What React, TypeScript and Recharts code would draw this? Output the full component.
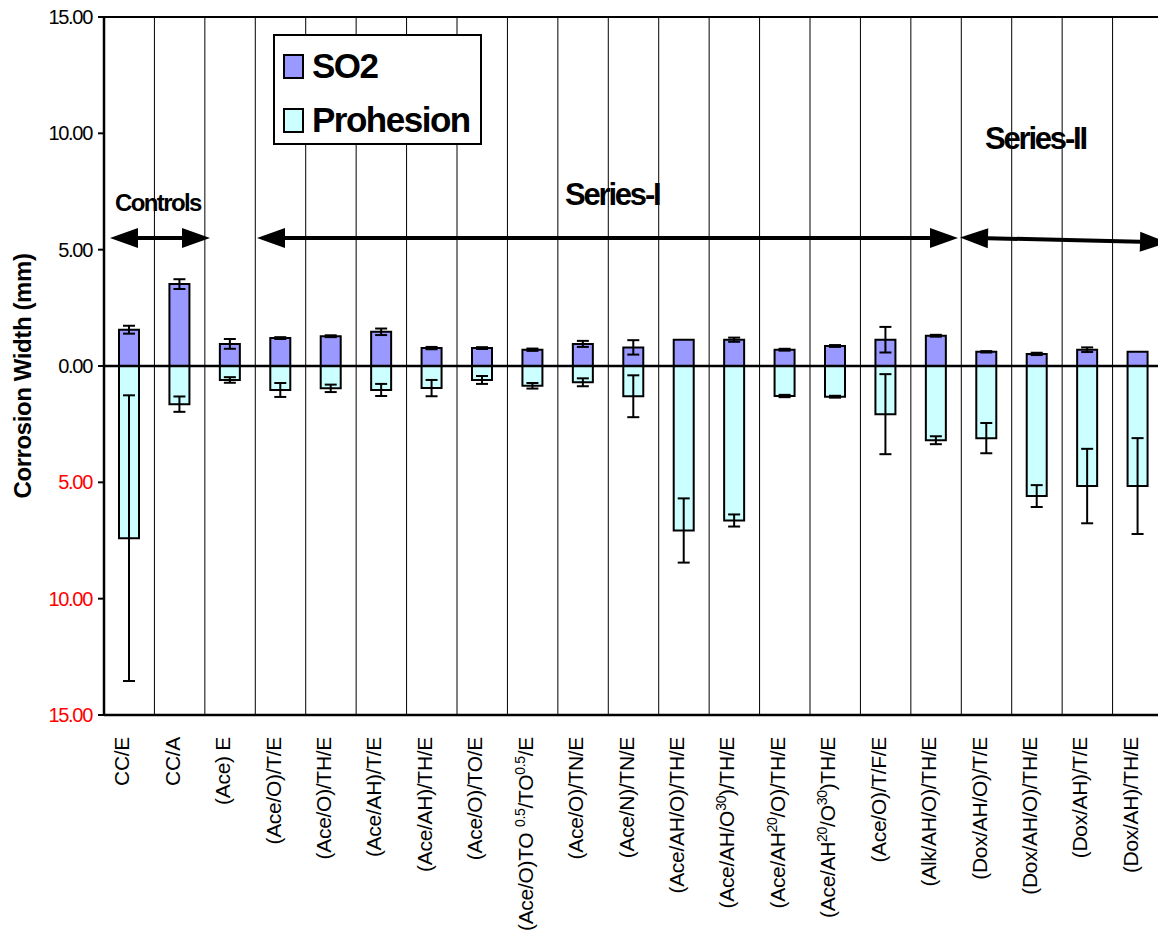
import React from 'react';
import { BarChart, Bar, XAxis, YAxis, CartesianGrid, ReferenceLine, ErrorBar, Legend } from 'recharts';

// '^' marks superscript parts of a label
const categories = [
  'CC/E',
  'CC/A',
  '(Ace) E',
  '(Ace/O)/T/E',
  '(Ace/O)/TH/E',
  '(Ace/AH)/T/E',
  '(Ace/AH)/TH/E',
  '(Ace/O)/TO/E',
  '(Ace/O)TO ^0.5^/TO^0.5^/E',
  '(Ace/O)/TN/E',
  '(Ace/N)/TN/E',
  '(Ace/AH/O)/TH/E',
  '(Ace/AH/O^30^)/TH/E',
  '(Ace/AH^20^/O)/TH/E',
  '(Ace/AH^20^/O^30^)TH/E',
  '(Ace/O)/T/F/E',
  '(Alk/AH/O)/TH/E',
  '(Dox/AH/O)/T/E',
  '(Dox/AH/O)/TH/E',
  '(Dox/AH)/T/E',
  '(Dox/AH)/TH/E',
];

const so2 = [1.56, 3.52, 0.95, 1.2, 1.28, 1.47, 0.77, 0.77, 0.7, 0.95, 0.8, 1.13, 1.13, 0.7, 0.86, 1.13, 1.3, 0.61, 0.52, 0.7, 0.61];
const so2Err = [0.17, 0.21, 0.21, 0.04, 0.04, 0.14, 0.05, 0.04, 0.05, 0.13, 0.31, 0, 0.09, 0.04, 0.04, 0.55, 0.04, 0.03, 0.05, 0.1, 0];
const prohesion = [-7.4, -1.64, -0.6, -1.03, -0.96, -1.03, -0.95, -0.6, -0.85, -0.7, -1.3, -7.07, -6.64, -1.29, -1.32, -2.07, -3.19, -3.1, -5.59, -5.16, -5.16];
const prohesionErr = [6.14, 0.33, 0.12, 0.3, 0.16, 0.26, 0.35, 0.17, 0.12, 0.17, 0.9, 1.38, 0.26, 0.05, 0.04, 1.72, 0.17, 0.65, 0.47, 1.6, 2.06];

const seriesOrder = ['SO2', 'Prohesion'];
const yTicks = [-15, -10, -5, 0, 5, 10, 15];

const data = categories.map((name, i) => ({
  name,
  so2: so2[i],
  so2Err: so2Err[i],
  prohesion: prohesion[i],
  prohesionErr: prohesionErr[i],
}));

const FONT = '"Liberation Sans", Arial, sans-serif';

const CategoryTick = (props: any) => {
  const { x, y, payload } = props;
  const parts = String(payload.value).split('^');
  return (
    <g transform={`translate(${x},${y + 20})`}>
      <text transform="rotate(-90)" textAnchor="end" dy={7} fontSize={21} letterSpacing={-0.3} fontFamily={FONT} fill="#000">
        {parts.map((p, i) =>
          i % 2 === 1 ? (
            <tspan key={i} dy={-8} fontSize={14}>{p}</tspan>
          ) : (
            <tspan key={i} dy={i === 0 ? 0 : 8}>{p}</tspan>
          )
        )}
      </text>
    </g>
  );
};

const ValueTick = (props: any) => {
  const { x, y, payload } = props;
  const v = payload.value;
  return (
    <text x={x} y={y} dy={7} textAnchor="end" fontSize={20} letterSpacing={-1.3} fontFamily={FONT} fill={v < 0 ? '#ff0000' : '#000'}>
      {Math.abs(v).toFixed(2)}
    </text>
  );
};

const renderLegend = (props: any) => {
  const items = [...(props.payload || [])].sort(
    (a: any, b: any) => seriesOrder.indexOf(a.value) - seriesOrder.indexOf(b.value)
  );
  return (
    <svg width={209} height={111} style={{ display: 'block' }}>
      <rect x={1} y={1} width={207} height={109} fill="#fff" stroke="#000" strokeWidth={2} />
      {items.map((entry: any, i: number) => (
        <g key={entry.value}>
          <rect x={11} y={21 + i * 54} width={19} height={23} fill={entry.color} stroke="#000" strokeWidth={2} />
          <text x={39} y={44 + i * 54} fontSize={35} fontWeight="bold" letterSpacing={-1.5} fontFamily={FONT} fill="#000">
            {entry.value}
          </text>
        </g>
      ))}
    </svg>
  );
};

const Arrow = ({ x1, y1, x2, y2 }: { x1: number; y1: number; x2: number; y2: number }) => {
  const len = Math.hypot(x2 - x1, y2 - y1);
  const ux = (x2 - x1) / len;
  const uy = (y2 - y1) / len;
  const px = -uy;
  const py = ux;
  const head = 28;
  const hw = 10;
  const head1 = [
    [x1, y1],
    [x1 + ux * head + px * hw, y1 + uy * head + py * hw],
    [x1 + ux * head - px * hw, y1 + uy * head - py * hw],
  ];
  const head2 = [
    [x2, y2],
    [x2 - ux * head + px * hw, y2 - uy * head + py * hw],
    [x2 - ux * head - px * hw, y2 - uy * head - py * hw],
  ];
  return (
    <g>
      <line x1={x1 + ux * head} y1={y1 + uy * head} x2={x2 - ux * head} y2={y2 - uy * head} stroke="#000" strokeWidth={4} />
      <polygon points={head1.map((p) => p.join(',')).join(' ')} fill="#000" />
      <polygon points={head2.map((p) => p.join(',')).join(' ')} fill="#000" />
    </g>
  );
};

const Annotations = () => (
  <svg width={1158} height={934} style={{ position: 'absolute', left: 0, top: 0, pointerEvents: 'none' }}>
    <Arrow x1={110} y1={238} x2={210} y2={238} />
    <Arrow x1={257} y1={238} x2={958} y2={238} />
    <Arrow x1={960} y1={237.5} x2={1168} y2={242.5} />
    <text x={115} y={211} fontSize={24} fontWeight="bold" letterSpacing={-1.6} fontFamily={FONT}>Controls</text>
    <text x={565} y={205} fontSize={31} fontWeight="bold" letterSpacing={-2.2} fontFamily={FONT}>Series-I</text>
    <text x={985} y={149} fontSize={31} fontWeight="bold" letterSpacing={-2.2} fontFamily={FONT}>Series-II</text>
  </svg>
);

export default function App() {
  return (
    <div style={{ position: 'absolute', left: 0, top: 0, width: 1158, height: 934, overflow: 'hidden', background: '#fff' }}>
      <BarChart
        width={1170}
        height={934}
        data={data}
        margin={{ top: 17, right: 7, bottom: 0, left: 0 }}
        barSize={20}
        barGap={-20}
      >
        <CartesianGrid
          horizontal={false}
          stroke="#000"
          strokeWidth={1}
          verticalCoordinatesGenerator={({ offset }: any) =>
            Array.from({ length: categories.length + 1 }, (_, i) => offset.left + (i * offset.width) / categories.length)
          }
        />
        <XAxis
          dataKey="name"
          interval={0}
          height={219}
          tick={<CategoryTick />}
          tickLine={false}
          tickSize={0}
          axisLine={{ stroke: '#000', strokeWidth: 2.5 }}
        />
        <YAxis
          domain={[-15, 15]}
          ticks={yTicks}
          interval={0}
          width={104}
          tick={<ValueTick />}
          tickSize={6}
          tickMargin={6}
          tickLine={{ stroke: '#000', strokeWidth: 2 }}
          axisLine={{ stroke: '#000', strokeWidth: 2.5 }}
          label={(props: any) => {
            const vb = props.viewBox;
            const cy = vb.y + vb.height / 2 + 10;
            return (
              <text x={23} y={cy} dy={8} transform={`rotate(-90, 23, ${cy})`} textAnchor="middle" fontSize={24} fontWeight="bold" letterSpacing={-0.4} fontFamily={FONT} fill="#000">
                Corrosion Width (mm)
              </text>
            );
          }}
        />
        <Legend
          layout="horizontal"
          verticalAlign="middle"
          align="center"
          content={renderLegend}
          wrapperStyle={{ left: 273, top: 34, width: 'auto', height: 'auto' }}
        />
        <Bar dataKey="so2" name="SO2" fill="#9999ff" stroke="#000" strokeWidth={2} isAnimationActive={false}>
          <ErrorBar dataKey="so2Err" width={6} stroke="#000" strokeWidth={2} />
        </Bar>
        <Bar dataKey="prohesion" name="Prohesion" fill="#ccffff" stroke="#000" strokeWidth={2} isAnimationActive={false}>
          <ErrorBar dataKey="prohesionErr" width={6} stroke="#000" strokeWidth={2} />
        </Bar>
        <ReferenceLine y={0} stroke="#000" strokeWidth={2.5} />
        <ReferenceLine y={15} stroke="#000" strokeWidth={2} />
      </BarChart>
      <Annotations />
    </div>
  );
}
